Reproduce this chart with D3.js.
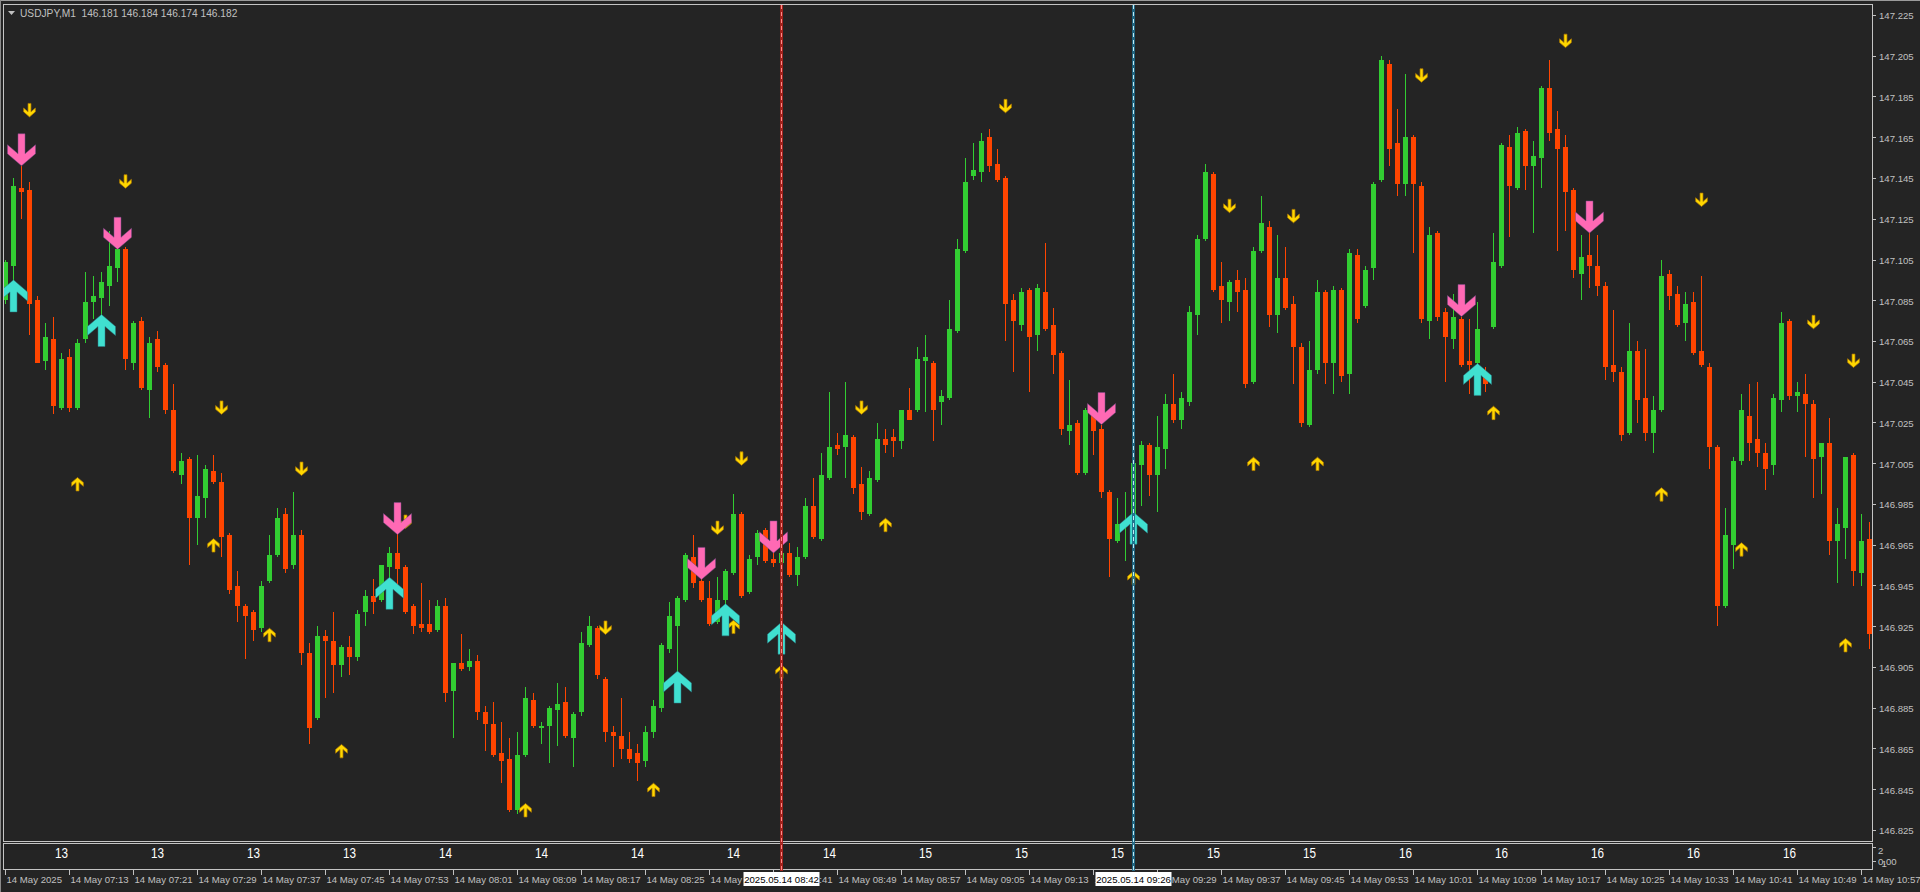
<!DOCTYPE html>
<html><head><meta charset="utf-8">
<script src="https://cdn.jsdelivr.net/npm/d3@7"></script>
<style>
html,body{margin:0;padding:0;background:#242424;overflow:hidden}
svg{display:block}
text{font-family:"Liberation Sans",Arial,sans-serif;white-space:pre}
</style></head><body>
<svg id="chart" width="1920" height="892"></svg>
<script>
const symbolTitle = "USDJPY,M1  146.181 146.184 146.174 146.182";
const opens = [147.085,147.102,147.140,147.139,147.085,147.055,147.066,147.032,147.057,147.032,
147.066,147.084,147.086,147.092,147.101,147.110,147.054,147.075,147.041,147.066,
147.053,147.031,146.999,147.007,146.978,146.988,147.001,146.996,146.970,146.945,
146.935,146.932,146.924,146.947,146.960,146.980,146.955,146.970,146.912,146.880,
146.920,146.918,146.906,146.915,146.910,146.932,146.940,146.938,146.954,146.961,
146.954,146.935,146.926,146.926,146.923,146.935,146.893,146.907,146.905,146.908,
146.883,146.877,146.863,146.860,146.835,146.862,146.889,146.875,146.876,146.884,
146.888,146.870,146.883,146.916,146.924,146.899,146.873,146.871,146.865,146.863,
146.859,146.873,146.885,146.914,146.925,146.938,146.959,146.947,146.939,146.927,
146.938,146.951,146.980,146.942,146.959,146.972,146.958,146.956,146.961,146.950,
146.959,146.984,146.968,146.998,147.014,147.013,147.018,146.995,146.980,146.997,
147.017,147.018,147.016,147.031,147.031,147.055,147.054,147.035,147.037,147.070,
147.109,147.146,147.148,147.165,147.152,147.145,147.085,147.073,147.090,147.068,
147.089,147.073,147.059,147.021,147.025,147.000,147.030,147.022,146.991,146.967,
146.974,146.980,147.004,147.014,146.999,147.012,147.034,147.026,147.035,147.078,
147.115,147.147,147.092,147.084,147.095,147.090,147.045,147.109,147.121,147.078,
147.096,147.083,147.062,147.024,147.051,147.089,147.054,147.090,147.049,147.107,
147.082,147.101,147.144,147.201,147.162,147.142,147.165,147.141,147.075,147.118,
147.079,147.066,147.076,147.055,147.054,147.048,147.072,147.102,147.160,147.140,
147.168,147.151,147.155,147.189,147.169,147.160,147.139,147.098,147.107,147.102,
147.092,147.053,147.050,147.020,147.060,147.037,147.020,147.031,147.098,147.088,
147.074,147.084,147.060,147.052,147.013,146.935,146.965,147.006,147.028,147.017,
147.010,147.004,147.036,147.075,147.038,147.039,147.034,147.008,147.015,146.967,
146.973,147.009,146.951,146.968];
const highs = [147.105,147.145,147.151,147.143,147.087,147.074,147.077,147.059,147.061,147.066,
147.099,147.097,147.099,147.119,147.111,147.111,147.075,147.077,147.067,147.070,
147.054,147.044,147.010,147.008,147.009,147.004,147.009,147.000,146.971,146.952,
146.936,146.933,146.947,146.970,146.983,146.983,146.991,146.972,146.917,146.925,
146.923,146.932,146.916,146.920,146.933,146.943,146.948,146.955,146.964,146.971,
146.955,146.936,146.946,146.938,146.938,146.939,146.907,146.921,146.914,146.911,
146.886,146.888,146.878,146.870,146.873,146.895,146.892,146.878,146.886,146.897,
146.895,146.883,146.922,146.930,146.925,146.900,146.876,146.890,146.873,146.867,
146.876,146.889,146.917,146.937,146.940,146.961,146.970,146.949,146.947,146.949,
146.953,146.990,146.981,146.960,146.972,146.973,146.961,146.963,146.966,146.964,
146.988,146.998,147.010,147.040,147.020,147.045,147.019,147.003,147.001,147.025,
147.022,147.022,147.031,147.042,147.062,147.068,147.055,147.041,147.085,147.115,
147.155,147.162,147.167,147.169,147.159,147.146,147.088,147.091,147.091,147.093,
147.113,147.081,147.060,147.046,147.026,147.032,147.031,147.024,146.992,146.988,
146.991,147.008,147.016,147.015,147.028,147.039,147.049,147.040,147.082,147.117,
147.152,147.148,147.104,147.095,147.100,147.096,147.111,147.136,147.124,147.117,
147.111,147.087,147.064,147.065,147.095,147.090,147.092,147.091,147.110,147.110,
147.102,147.143,147.205,147.203,147.179,147.196,147.166,147.143,147.121,147.119,
147.081,147.088,147.077,147.076,147.084,147.052,147.118,147.162,147.166,147.170,
147.169,147.163,147.190,147.203,147.178,147.166,147.140,147.117,147.118,147.117,
147.094,147.080,147.052,147.074,147.065,147.061,147.038,147.105,147.100,147.092,
147.089,147.089,147.097,147.054,147.014,146.983,147.008,147.039,147.044,147.045,
147.015,147.039,147.079,147.076,147.045,147.049,147.036,147.015,147.027,146.983,
147.008,147.010,146.980,146.976];
const lows = [147.083,147.093,147.125,147.068,147.054,147.051,147.029,147.031,147.030,147.031,
147.064,147.076,147.077,147.082,147.094,147.051,147.051,147.041,147.027,147.050,
147.029,147.000,146.995,146.955,146.965,146.978,146.995,146.959,146.941,146.927,
146.909,146.918,146.922,146.946,146.959,146.951,146.953,146.906,146.867,146.879,
146.890,146.892,146.900,146.901,146.908,146.925,146.931,146.937,146.946,146.943,
146.931,146.921,146.922,146.921,146.922,146.888,146.870,146.903,146.903,146.879,
146.864,146.861,146.848,146.834,146.833,146.861,146.875,146.867,146.858,146.866,
146.870,146.856,146.881,146.915,146.899,146.868,146.856,146.860,146.858,146.849,
146.856,146.870,146.883,146.912,146.903,146.937,146.944,146.937,146.925,146.926,
146.934,146.950,146.939,146.941,146.955,146.956,146.954,146.925,146.949,146.945,
146.958,146.968,146.967,146.997,147.009,146.998,146.990,146.977,146.979,146.996,
147.010,147.008,147.012,147.026,147.030,147.030,147.016,147.024,147.036,147.069,
147.108,147.144,147.143,147.148,147.143,147.065,147.050,147.070,147.040,147.060,
147.070,147.049,147.019,147.014,146.999,146.999,147.009,146.988,146.949,146.966,
146.957,146.978,146.984,146.989,146.981,147.002,147.025,147.022,147.033,147.068,
147.114,147.089,147.074,147.075,147.079,147.042,147.044,147.108,147.072,147.069,
147.080,147.044,147.023,147.023,147.049,147.044,147.039,147.045,147.039,147.074,
147.081,147.095,147.143,147.151,147.136,147.136,147.108,147.074,147.066,147.075,
147.045,147.061,147.052,147.039,147.052,147.040,147.071,147.101,147.116,147.139,
147.139,147.118,147.140,147.163,147.109,147.119,147.096,147.085,147.091,147.087,
147.046,147.045,147.016,147.019,147.025,147.016,147.010,147.030,147.080,147.072,
147.065,147.058,147.052,147.002,146.925,146.934,146.953,147.004,147.006,147.003,
146.992,146.999,147.030,147.036,147.030,147.008,146.988,146.990,146.960,146.946,
146.958,146.945,146.945,146.914];
const closes = [147.104,147.141,147.138,147.083,147.054,147.067,147.033,147.056,147.032,147.064,
147.084,147.087,147.094,147.102,147.110,147.056,147.074,147.042,147.064,147.052,
147.031,147.001,147.006,146.978,146.989,147.002,146.996,146.969,146.943,146.935,
146.930,146.923,146.945,146.960,146.978,146.953,146.970,146.912,146.875,146.920,
146.918,146.906,146.915,146.910,146.931,146.940,146.937,146.955,146.961,146.953,
146.932,146.925,146.924,146.922,146.935,146.892,146.907,146.904,146.908,146.883,
146.877,146.862,146.859,146.835,146.862,146.890,146.876,146.876,146.885,146.887,
146.871,146.882,146.917,146.925,146.901,146.873,146.871,146.865,146.860,146.858,
146.873,146.886,146.916,146.930,146.939,146.960,146.946,146.938,146.926,146.938,
146.952,146.980,146.940,146.958,146.971,146.957,146.956,146.961,146.950,146.959,
146.984,146.969,146.999,147.013,147.012,147.019,146.993,146.981,146.998,147.017,
147.014,147.016,147.031,147.026,147.056,147.057,147.031,147.038,147.071,147.110,
147.143,147.149,147.163,147.151,147.144,147.083,147.075,147.089,147.067,147.091,
147.071,147.058,147.022,147.024,147.000,147.031,147.021,146.991,146.968,146.975,
146.976,147.005,147.014,146.999,147.013,147.034,147.026,147.037,147.079,147.115,
147.148,147.090,147.085,147.094,147.089,147.044,147.109,147.123,147.078,147.096,
147.081,147.062,147.025,147.051,147.089,147.054,147.090,147.048,147.108,147.076,
147.100,147.142,147.203,147.159,147.142,147.165,147.142,147.076,147.117,147.077,
147.067,147.077,147.053,147.053,147.071,147.044,147.104,147.161,147.141,147.167,
147.151,147.156,147.189,147.167,147.159,147.138,147.100,147.106,147.102,147.092,
147.052,147.050,147.019,147.060,147.036,147.020,147.031,147.097,147.087,147.073,
147.083,147.059,147.053,147.013,146.935,146.970,147.006,147.031,147.015,147.010,
147.002,147.037,147.074,147.038,147.040,147.034,147.007,147.015,146.967,146.975,
147.008,146.952,146.967,146.921];

const priceTicks = [147.225,147.205,147.185,147.165,147.145,147.125,147.105,147.085,147.065,147.045,147.025,
147.005,146.985,146.965,146.945,146.925,146.905,146.885,146.865,146.845,146.825];
const timeTickLabels = ["14 May 2025","14 May 07:13","14 May 07:21","14 May 07:29","14 May 07:37","14 May 07:45",
"14 May 07:53","14 May 08:01","14 May 08:09","14 May 08:17","14 May 08:25","14 May 08:33","14 May 08:41",
"14 May 08:49","14 May 08:57","14 May 09:05","14 May 09:13","14 May 09:21","14 May 09:29","14 May 09:37",
"14 May 09:45","14 May 09:53","14 May 10:01","14 May 10:09","14 May 10:17","14 May 10:25","14 May 10:33",
"14 May 10:41","14 May 10:49","14 May 10:57"];
const hourLabels = ["13","13","13","13","14","14","14","14","14","15","15","15","15","15","16","16","16","16","16"];
const subAxisLabels = ["2","0.00","1"];

// [bar index, price]
const yellowDownArrows = [[3,147.175],[15,147.140],[27,147.029],[37,146.999],[50,146.973],[75,146.921],[89,146.970],
[92,147.004],[107,147.029],[125,147.177],[153,147.128],[161,147.123],[177,147.192],[195,147.209],[212,147.131],
[226,147.071],[231,147.052]];
const yellowUpArrows = [[9,146.998],[26,146.968],[33,146.924],[42,146.867],[65,146.838],[81,146.848],[91,146.928],
[97,146.906],[110,146.978],[141,146.952],[156,147.008],[164,147.008],[186,147.033],[207,146.993],[217,146.966],
[230,146.919]];
const pinkDownArrows = [[2,147.151],[14,147.110],[49,146.970],[87,146.948],[96,146.961],[137,147.024],[182,147.077],[198,147.118]];
const cyanUpArrows = [[1,147.095],[12,147.078],[48,146.949],[84,146.903],[90,146.936],[97,146.927],[141,146.981],[184,147.054]];

const vLines = [{i:97,label:"2025.05.14 08:42",band:"#b0221c",dash:"#ff8a8a"},
                {i:141,label:"2025.05.14 09:26",band:"#1f6a88",dash:"#bfeaf5"}];

// ---------------------------------------------------------------
const W=1920,H=892, BG="#242424", UP="#32CD32", DN="#FF4500", AX="#c0c0c0", FR="#c4c4c4";
const svg=d3.select("#chart");
svg.append("rect").attr("width",W).attr("height",H).attr("fill",BG);
svg.append("line").attr("x1",0).attr("x2",W).attr("y1",0.5).attr("y2",0.5).attr("stroke","#9a9a9a");
svg.append("line").attr("x1",0.5).attr("x2",0.5).attr("y1",0).attr("y2",H).attr("stroke","#8a8a8a");

const x=d3.scaleLinear().domain([0,233]).range([5.5,1869.5]);
const y=d3.scaleLinear().domain([146.825,147.225]).range([830,15]);

const defs=svg.append("defs");
defs.append("clipPath").attr("id","plot").append("rect").attr("x",4).attr("y",5).attr("width",1868).attr("height",836);

// frames
svg.append("rect").attr("x",3.5).attr("y",4.5).attr("width",1869).attr("height",837).attr("fill","none").attr("stroke",FR);
svg.append("rect").attr("x",3.5).attr("y",843.5).attr("width",1869).attr("height",26).attr("fill","none").attr("stroke",FR);

// header
svg.append("path").attr("d","M8,11L15,11L11.5,15Z").attr("fill",AX);
svg.append("text").attr("x",20).attr("y",16.5).attr("font-size",10.2).attr("fill",AX).text(symbolTitle);

// price axis
const pa=svg.append("g");
pa.selectAll("line").data(priceTicks).join("line")
  .attr("x1",1873).attr("x2",1876).attr("y1",d=>Math.round(y(d))+0.5).attr("y2",d=>Math.round(y(d))+0.5).attr("stroke",AX);
pa.selectAll("text").data(priceTicks).join("text")
  .attr("x",1879).attr("y",d=>y(d)+4.3).attr("font-size",9.6).attr("fill",AX).text(d=>d3.format(".3f")(d));

// candles
const bars=opens.map((o,i)=>({i,o,h:highs[i],l:lows[i],c:closes[i]}));
const gC=svg.append("g").attr("clip-path","url(#plot)").attr("shape-rendering","crispEdges");
gC.selectAll("line").data(bars).join("line")
  .attr("x1",d=>x(d.i)).attr("x2",d=>x(d.i))
  .attr("y1",d=>y(d.h)).attr("y2",d=>y(d.l))
  .attr("stroke",d=>d.c>=d.o?UP:DN).attr("stroke-width",1);
gC.selectAll("rect").data(bars).join("rect")
  .attr("x",d=>x(d.i)-2.5).attr("width",5)
  .attr("y",d=>y(Math.max(d.o,d.c)))
  .attr("height",d=>Math.max(1,y(Math.min(d.o,d.c))-y(Math.max(d.o,d.c))))
  .attr("fill",d=>d.c>=d.o?UP:DN);

// arrows
const shape=[[0,0],[-14,-12],[-14,-21],[-3.5,-12],[-3.5,-32],[3.5,-32],[3.5,-12],[14,-21],[14,-12]];
const line=d3.line();
function arrowPath(cx,tipY,s,dir){return line(shape.map(([a,b])=>[cx+a*s,tipY+b*s*dir]))+"Z";}
const gA=svg.append("g").attr("clip-path","url(#plot)");
gA.selectAll("path.yd").data(yellowDownArrows).join("path").attr("class","yd")
  .attr("d",d=>arrowPath(x(d[0]),y(d[1]),0.42,1)).attr("fill","#FFD700").attr("stroke","#b07a00").attr("stroke-width",0.7);
gA.selectAll("path.yu").data(yellowUpArrows).join("path").attr("class","yu")
  .attr("d",d=>arrowPath(x(d[0]),y(d[1]),0.42,-1)).attr("fill","#FFD700").attr("stroke","#b07a00").attr("stroke-width",0.7);
gA.selectAll("path.pd").data(pinkDownArrows).join("path").attr("class","pd")
  .attr("d",d=>arrowPath(x(d[0]),y(d[1]),1,1)).attr("fill","#FF69B4").attr("stroke","#7a4a8a").attr("stroke-width",0.5);
gA.selectAll("path.cu").data(cyanUpArrows).join("path").attr("class","cu")
  .attr("d",d=>arrowPath(x(d[0]),y(d[1]),1,-1)).attr("fill","#40E0D0").attr("stroke","#2a7f88").attr("stroke-width",0.5);

// subwindow
svg.append("g").selectAll("text").data(hourLabels).join("text")
  .attr("x",(d,k)=>x(7+12*k)).attr("y",857.5).attr("text-anchor","middle")
  .attr("font-size",14).attr("textLength",13).attr("lengthAdjust","spacingAndGlyphs")
  .attr("fill","#ffffff").text(d=>d);
svg.append("text").attr("x",1878).attr("y",853.5).attr("font-size",9.6).attr("fill",AX).text(subAxisLabels[0]);
svg.append("text").attr("x",1878).attr("y",865).attr("font-size",9.6).attr("fill",AX).text(subAxisLabels[1]);
svg.append("text").attr("x",1881.5).attr("y",866.5).attr("font-size",9.6).attr("fill",AX).text(subAxisLabels[2]);
svg.append("line").attr("x1",1873).attr("x2",1876).attr("y1",847.5).attr("y2",847.5).attr("stroke",AX);
svg.append("line").attr("x1",1873).attr("x2",1876).attr("y1",861.5).attr("y2",861.5).attr("stroke",AX);

// time axis
const ta=svg.append("g");
ta.selectAll("line").data(timeTickLabels).join("line")
  .attr("x1",(d,k)=>Math.floor(x(8*k))+0.5).attr("x2",(d,k)=>Math.floor(x(8*k))+0.5)
  .attr("y1",870).attr("y2",875).attr("stroke",AX);
ta.selectAll("text").data(timeTickLabels).join("text")
  .attr("x",(d,k)=>Math.floor(x(8*k))+1.5).attr("y",882.5).attr("font-size",9.6).attr("fill",AX).text(d=>d);

// vertical lines
const gV=svg.append("g");
vLines.forEach(v=>{
  const xv=Math.floor(x(v.i))+0.5;
  gV.append("line").attr("x1",xv).attr("x2",xv).attr("y1",5).attr("y2",871).attr("stroke",v.band).attr("stroke-width",3).attr("opacity",0.9);
  gV.append("line").attr("x1",xv).attr("x2",xv).attr("y1",5).attr("y2",871).attr("stroke",v.dash).attr("stroke-width",1).attr("stroke-dasharray","4,3");
  gV.append("rect").attr("x",xv-38).attr("y",872).attr("width",76).attr("height",14).attr("fill","#ffffff");
  gV.append("text").attr("x",xv).attr("y",882.5).attr("text-anchor","middle").attr("font-size",9.6).attr("fill","#000").text(v.label);
});
</script>
</body></html>
